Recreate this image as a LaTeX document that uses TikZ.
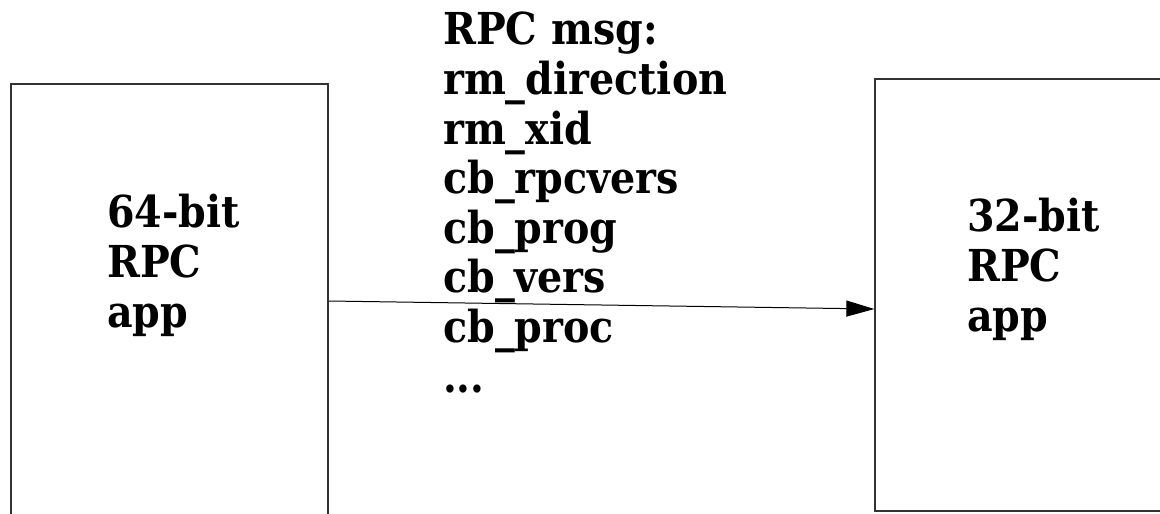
\documentclass[tikz,border=0pt]{standalone}
\usepackage{fontspec}
\setmainfont{DejaVu Serif}[FakeStretch=0.9]
\usetikzlibrary{arrows.meta}
\begin{document}
\begin{tikzpicture}[x=1pt,y=-1pt,
  appbox/.style={draw=black!80,line width=1.3pt,rectangle,inner sep=0pt},
  lbl/.style={font=\fontsize{44}{49.6}\selectfont\bfseries,align=left,inner sep=0pt,anchor=base west},
  msgarrow/.style={draw=black,line width=1pt,-{Triangle[length=28pt,width=16pt]}}]
\useasboundingbox (0,0) rectangle (1160,514);
\clip (0,0) rectangle (1160,514);
\fill[white] (0,0) rectangle (1160,514);
\node[appbox,minimum width=317pt,minimum height=446pt] (lbox) at (169.5,307) {};
\node[appbox,minimum width=305pt,minimum height=432pt] (rbox) at (1027.5,295) {};
\node[lbl] (ltext) at (107,327) {64-bit\\RPC\\app};
\node[lbl] (rtext) at (967,331) {32-bit\\RPC\\app};
\node[lbl] (msg) at (443,392) {RPC msg:\\rm\_direction\\rm\_xid\\cb\_rpcvers\\cb\_prog\\cb\_vers\\cb\_proc\\...};
\coordinate (s) at (lbox.east |- 0,301);
\coordinate (e) at (rbox.west |- 0,309);
\draw[msgarrow] (s) -- (e);
\end{tikzpicture}
\end{document}
